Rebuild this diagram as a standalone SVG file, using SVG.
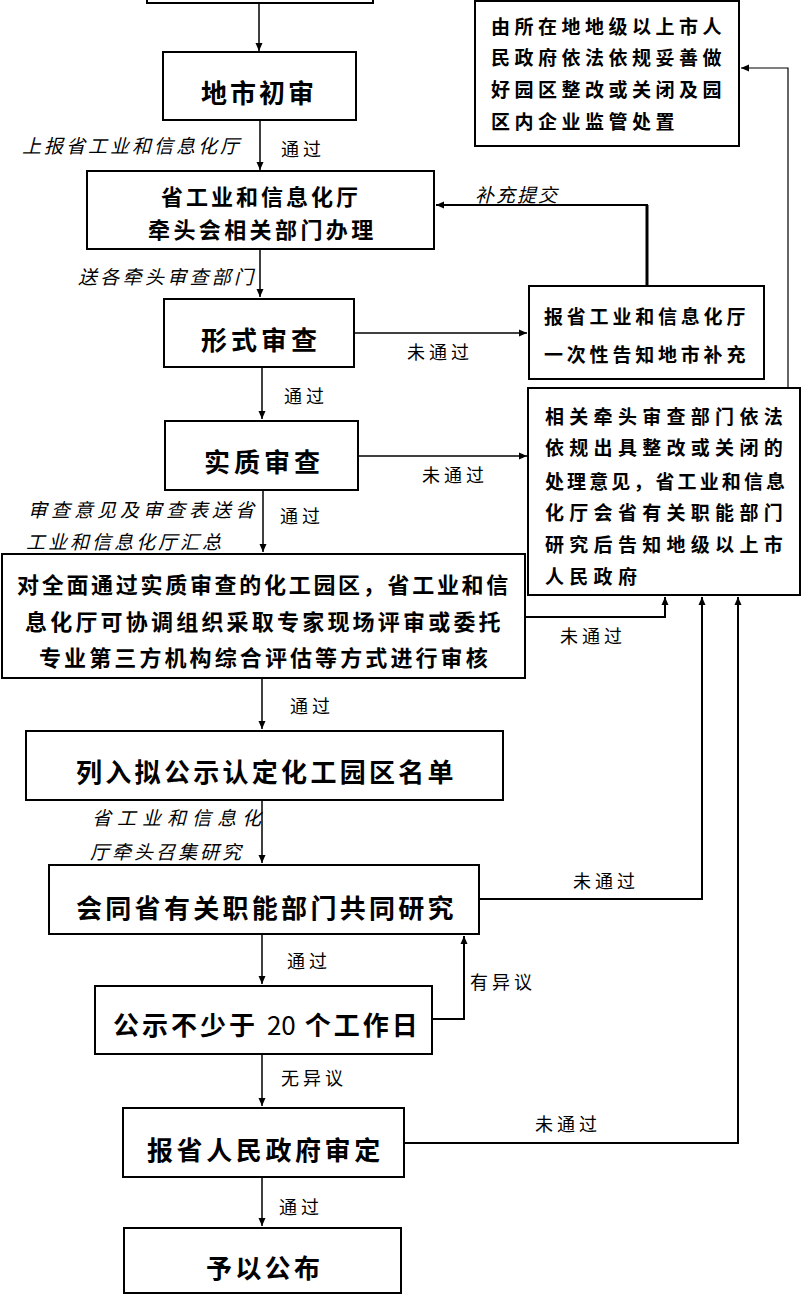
<svg xmlns="http://www.w3.org/2000/svg" width="802" height="1295" viewBox="0 0 802 1295">
<style>
.box{fill:#fff;stroke:#000;stroke-width:2}
.c{fill:none;stroke:#000;stroke-width:1.5}
.t26{font-family:"Noto Sans CJK SC",sans-serif;font-size:26px;font-weight:bold;fill:#000}
.t22{font-family:"Noto Sans CJK SC",sans-serif;font-size:22px;font-weight:bold;fill:#000}
.t19{font-family:"Noto Sans CJK SC",sans-serif;font-size:19px;font-weight:bold;fill:#000}
.lb{font-family:"Noto Sans CJK SC",sans-serif;font-size:18px;fill:#000;letter-spacing:4px}
.it{font-family:"Noto Sans CJK SC",sans-serif;font-size:19px;font-style:italic;fill:#000}
</style>
<defs>
<marker id="ah" markerUnits="userSpaceOnUse" markerWidth="9" markerHeight="8" refX="8" refY="4" orient="auto">
<path d="M0,0.5 L8,4 L0,7.5 Z" fill="#000"/>
</marker>
</defs>

<g id="connectors">
<path class="c" d="M259,3 V51" marker-end="url(#ah)"/>
<path class="c" d="M260,121 V170" marker-end="url(#ah)"/>
<path class="c" d="M260,250 V297" marker-end="url(#ah)"/>
<path class="c" d="M262,368 V419" marker-end="url(#ah)"/>
<path class="c" d="M263,491 V552" marker-end="url(#ah)"/>
<path class="c" d="M262,679 V729" marker-end="url(#ah)"/>
<path class="c" d="M262,801 V863" marker-end="url(#ah)"/>
<path class="c" d="M262,935 V984" marker-end="url(#ah)"/>
<path class="c" d="M262,1055 V1106" marker-end="url(#ah)"/>
<path class="c" d="M262,1178 V1226" marker-end="url(#ah)"/>
<path class="c" d="M355,333 H527" marker-end="url(#ah)"/>
<path class="c" d="M359,456 H527" marker-end="url(#ah)"/>
<path class="c" d="M647,285 V205" style="stroke-width:3"/>
<path class="c" d="M648,205 H436" style="stroke-width:2" marker-end="url(#ah)"/>
<path class="c" d="M788,388 V68 H741" style="stroke-width:1.2" marker-end="url(#ah)"/>
<path class="c" d="M526,617 H665 V597" style="stroke-width:2" marker-end="url(#ah)"/>
<path class="c" d="M480,899 H702 V597" style="stroke-width:2" marker-end="url(#ah)"/>
<path class="c" d="M405,1143 H738 V597" style="stroke-width:2" marker-end="url(#ah)"/>
<path class="c" d="M433,1019 H464 V936" style="stroke-width:2" marker-end="url(#ah)"/>
</g>

<g id="labels">
<text class="it" x="22" y="153" style="letter-spacing:3px">上报省工业和信息化厅</text>
<text class="lb" x="281" y="156">通过</text>
<text class="it" x="78" y="284" style="letter-spacing:3.3px">送各牵头审查部门</text>
<text class="it" x="475" y="202" style="letter-spacing:2px">补充提交</text>
<text class="lb" x="407" y="359">未通过</text>
<text class="lb" x="284" y="403">通过</text>
<text class="lb" x="422" y="482">未通过</text>
<text class="it" x="28" y="517" style="letter-spacing:4px">审查意见及审查表送省</text>
<text class="it" x="26" y="549" style="letter-spacing:3px">工业和信息化厅汇总</text>
<text class="lb" x="280" y="523">通过</text>
<text class="lb" x="560" y="643">未通过</text>
<text class="lb" x="290" y="713">通过</text>
<text class="it" x="92" y="825" style="letter-spacing:6px">省工业和信息化</text>
<text class="it" x="90" y="859" style="letter-spacing:3px">厅牵头召集研究</text>
<text class="lb" x="573" y="888">未通过</text>
<text class="lb" x="287" y="968">通过</text>
<text class="lb" x="470" y="989">有异议</text>
<text class="lb" x="281" y="1085">无异议</text>
<text class="lb" x="535" y="1131">未通过</text>
<text class="lb" x="279" y="1214">通过</text>
</g>

<g id="node-top">
<rect class="box" x="147" y="-10" width="226" height="13"/>
</g>

<g id="node-dishi">
<rect class="box" x="163" y="52" width="193" height="68"/>
<text class="t26" x="201" y="103" style="letter-spacing:3px">地市初审</text>
</g>

<g id="node-sheng">
<rect class="box" x="87" y="171" width="347" height="78"/>
<text class="t22" x="161" y="205" style="letter-spacing:3px">省工业和信息化厅</text>
<text class="t22" x="148" y="238" style="letter-spacing:3.4px">牵头会相关部门办理</text>
</g>

<g id="node-xingshi">
<rect class="box" x="164" y="299" width="190" height="68"/>
<text class="t26" x="201" y="350" style="letter-spacing:4px">形式审查</text>
</g>

<g id="node-shizhi">
<rect class="box" x="165" y="421" width="193" height="69"/>
<text class="t26" x="204" y="472" style="letter-spacing:4px">实质审查</text>
</g>

<g id="node-buchong">
<rect class="box" x="529" y="286" width="235" height="93"/>
<text class="t19" x="544" y="324" style="letter-spacing:3.8px">报省工业和信息化厅</text>
<text class="t19" x="544" y="362" style="letter-spacing:3.8px">一次性告知地市补充</text>
</g>

<g id="node-zhenggai">
<rect class="box" x="475" y="1" width="264" height="145"/>
<text class="t19" x="491" y="34" style="letter-spacing:4.5px">由所在地地级以上市人</text>
<text class="t19" x="491" y="65" style="letter-spacing:4.5px">民政府依法依规妥善做</text>
<text class="t19" x="491" y="97" style="letter-spacing:4.5px">好园区整改或关闭及园</text>
<text class="t19" x="491" y="129" style="letter-spacing:4.5px">区内企业监管处置</text>
</g>

<g id="node-yijian">
<rect class="box" x="528" y="388" width="272" height="207"/>
<text class="t19" x="545" y="424" style="letter-spacing:5.3px">相关牵头审查部门依法</text>
<text class="t19" x="545" y="455" style="letter-spacing:5.3px">依规出具整改或关闭的</text>
<text class="t19" x="545" y="489" style="letter-spacing:3.1px">处理意见，省工业和信息</text>
<text class="t19" x="545" y="520" style="letter-spacing:5.3px">化厅会省有关职能部门</text>
<text class="t19" x="545" y="552" style="letter-spacing:5.3px">研究后告知地级以上市</text>
<text class="t19" x="545" y="584" style="letter-spacing:5.3px">人民政府</text>
</g>

<g id="node-pingshen">
<rect class="box" x="2" y="554" width="523" height="124"/>
<text class="t22" x="17" y="593" style="letter-spacing:2.7px">对全面通过实质审查的化工园区，省工业和信</text>
<text class="t22" x="25" y="630" style="letter-spacing:3.2px">息化厅可协调组织采取专家现场评审或委托</text>
<text class="t22" x="39" y="666" style="letter-spacing:3.1px">专业第三方机构综合评估等方式进行审核</text>
</g>

<g id="node-liru">
<rect class="box" x="26" y="731" width="477" height="69"/>
<text class="t26" x="76" y="782" style="letter-spacing:3.3px">列入拟公示认定化工园区名单</text>
</g>

<g id="node-huitong">
<rect class="box" x="49" y="865" width="430" height="69"/>
<text class="t26" x="76" y="918" style="letter-spacing:3.3px">会同省有关职能部门共同研究</text>
</g>

<g id="node-gongshi">
<rect class="box" x="95" y="986" width="337" height="68"/>
<text class="t26" x="113" y="1035" style="letter-spacing:3px">公示不少于 <tspan style="font-weight:normal;letter-spacing:0px">20</tspan> 个工作日</text>
</g>

<g id="node-shending">
<rect class="box" x="123" y="1108" width="281" height="69"/>
<text class="t26" x="147" y="1160" style="letter-spacing:3.6px">报省人民政府审定</text>
</g>

<g id="node-gongbu">
<rect class="box" x="124" y="1228" width="277" height="65"/>
<text class="t26" x="206" y="1278" style="letter-spacing:3.3px">予以公布</text>
</g>
</svg>
